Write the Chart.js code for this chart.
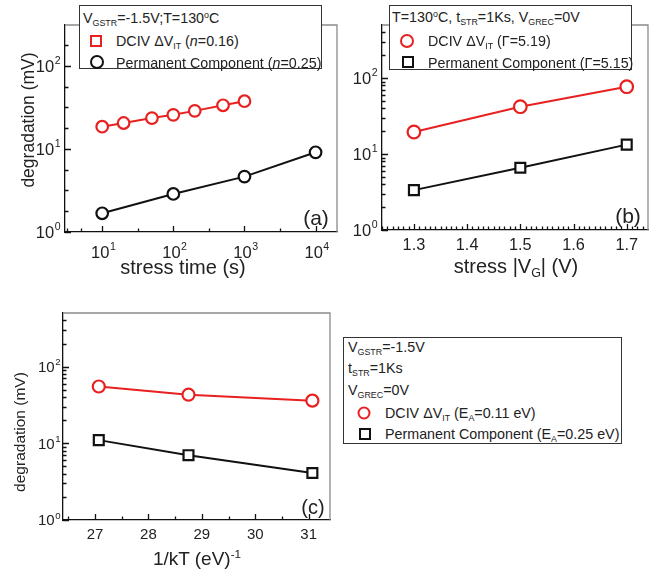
<!DOCTYPE html>
<html>
<head>
<meta charset="utf-8">
<script src="https://cdn.jsdelivr.net/npm/chart.js@4.4.1/dist/chart.umd.min.js"></script>
<style>
body { margin: 0; background: #fff; font-family: "Liberation Sans", Arial, sans-serif; color: #222; }
#wrap { position: relative; width: 665px; height: 570px; overflow: hidden; }
canvas { position: absolute; }
.leg { position: absolute; background: #fff; border: 1px solid #333; box-sizing: border-box; font-size: 14.3px; }
.row { position: absolute; white-space: nowrap; line-height: 1; transform: translateY(-50%); }
.mk { position: absolute; box-sizing: border-box; transform: translate(-50%, -50%); }
.ttl { position: absolute; white-space: nowrap; line-height: 1; transform: translate(-50%, -50%); }
.rot { transform: translate(-50%, -50%) rotate(-90deg); }
sub { font-size: 0.62em; vertical-align: -0.35em; line-height: 0; }
sup { font-size: 0.62em; vertical-align: 0.55em; line-height: 0; }
</style>
</head>
<body>
<div id="wrap">
  <canvas id="ca" width="345" height="290" style="left:0;top:0"></canvas>
  <canvas id="cb" width="330" height="290" style="left:335px;top:0"></canvas>
  <canvas id="cc" width="340" height="275" style="left:0;top:295px"></canvas>

  <!-- axis titles -->
  <div class="ttl" style="left:183px;top:267px;font-size:20px">stress time (s)</div>
  <div class="ttl rot" style="left:29px;top:120px;font-size:17.5px">degradation (mV)</div>
  <div class="ttl" style="left:516px;top:266px;font-size:20px">stress |V<sub>G</sub>| (V)</div>
  <div class="ttl rot" style="left:20px;top:432px;font-size:15.5px">degradation (mV)</div>
  <div class="ttl" style="left:197px;top:558px;font-size:19px">1/kT (eV)<sup>-1</sup></div>

  <!-- panel tags -->
  <div class="ttl" style="left:316px;top:217px;font-size:21px">(a)</div>
  <div class="ttl" style="left:628px;top:215px;font-size:21px">(b)</div>
  <div class="ttl" style="left:313px;top:507px;font-size:20px">(c)</div>

  <!-- legend (a) -->
  <div class="leg" style="left:79px;top:5px;width:243px;height:64px">
    <div class="row" style="left:3px;top:12px">V<sub>GSTR</sub>=-1.5V;T=130<sup>o</sup>C</div>
    <div class="mk" style="left:16px;top:35px;width:12px;height:12px;border:2px solid #e82020"></div>
    <div class="row" style="left:36px;top:35px">DCIV ΔV<sub>IT</sub> (<i>n</i>=0.16)</div>
    <div class="mk" style="left:17px;top:56px;width:14px;height:14px;border:2.5px solid #111;border-radius:50%"></div>
    <div class="row" style="left:36px;top:57px">Permanent Component (<i>n</i>=0.25)</div>
  </div>

  <!-- legend (b) -->
  <div class="leg" style="left:389px;top:5px;width:243px;height:65px">
    <div class="row" style="left:2px;top:11px">T=130<sup>o</sup>C, t<sub>STR</sub>=1Ks, V<sub>GREC</sub>=0V</div>
    <div class="mk" style="left:17px;top:35px;width:14px;height:14px;border:2.5px solid #e82020;border-radius:50%"></div>
    <div class="row" style="left:38px;top:35px">DCIV ΔV<sub>IT</sub> (Γ=5.19)</div>
    <div class="mk" style="left:18px;top:56px;width:12px;height:12px;border:2.5px solid #111"></div>
    <div class="row" style="left:38px;top:57px">Permanent Component (Γ=5.15)</div>
  </div>

  <!-- legend (c) -->
  <div class="leg" style="left:343px;top:337px;width:279px;height:107px">
    <div class="row" style="left:4px;top:9px">V<sub>GSTR</sub>=-1.5V</div>
    <div class="row" style="left:4px;top:30px">t<sub>STR</sub>=1Ks</div>
    <div class="row" style="left:4px;top:52px">V<sub>GREC</sub>=0V</div>
    <div class="mk" style="left:20px;top:75px;width:13px;height:13px;border:2.5px solid #e82020;border-radius:50%"></div>
    <div class="row" style="left:41px;top:75px">DCIV ΔV<sub>IT</sub> (E<sub>A</sub>=0.11 eV)</div>
    <div class="mk" style="left:21px;top:96px;width:12px;height:12px;border:2.5px solid #111"></div>
    <div class="row" style="left:41px;top:96px">Permanent Component (E<sub>A</sub>=0.25 eV)</div>
  </div>
</div>

<script>
// ---- data ----
// (a) degradation vs stress time
const timeA = [10, 20, 50, 100, 200, 500, 1000];
const dcivA = [18.5, 20.5, 23.5, 25.7, 28.7, 33.5, 37.5];
const timePermA = [10, 100, 1000, 10000];
const permA = [1.68, 2.87, 4.64, 9.1];

// (b) degradation vs stress |VG|
const vgB = [1.3, 1.5, 1.7];
const dcivB = [19.5, 42, 77];
const permB = [3.35, 6.6, 13.3];

// (c) degradation vs 1/kT
const invKT = [27.07, 28.75, 31.07];
const dcivC = [55, 43, 36];
const permC = [11, 7, 4.1];

// tick labels
const logMajorA = [10, 100, 1000, 10000];
const logMajorY = [1, 10, 100];
const vgTicks = [1.3, 1.4, 1.5, 1.6, 1.7];
const ktTicks = [27, 28, 29, 30, 31];

const FONT = '"Liberation Sans", Arial, sans-serif';
const RED = '#e82020';
const BLK = '#111111';

function pts(xs, ys) {
    return xs.map((x, i) => ({ x: x, y: ys[i] }));
}

// minor ticks helpers
function logMinor29(min, max) {
    const out = [];
    for (let d = Math.floor(Math.log10(min)); d <= Math.ceil(Math.log10(max)); d++) {
        for (let m = 2; m <= 9; m++) {
            const v = m * Math.pow(10, d);
            if (v > min && v < max) out.push(v);
        }
    }
    return out;
}
function logFrac(min, max, frac) {
    const out = [];
    for (let e = Math.floor(Math.log10(min)); e <= Math.log10(max); e += frac) {
        const v = Math.pow(10, e);
        if (v > min * 1.001 && v < max && Math.abs(e - Math.round(e)) > 1e-6) out.push(v);
    }
    return out;
}
function linMinor(min, max, step) {
    const out = [];
    for (let v = Math.ceil(min / step) * step; v < max; v += step) out.push(+v.toFixed(4));
    return out;
}

// draws "10" with a raised exponent
function powText(ctx, v, x, y, size, align) {
    const base = '10';
    const exp = String(Math.round(Math.log10(v)));
    const es = size * 0.64;
    ctx.font = size + 'px ' + FONT;
    const bw = ctx.measureText(base).width;
    ctx.font = es + 'px ' + FONT;
    const ew = ctx.measureText(exp).width;
    let left = align === 'right' ? x - bw - ew : x - (bw + ew) / 2;
    ctx.textAlign = 'left';
    ctx.textBaseline = 'alphabetic';
    ctx.font = size + 'px ' + FONT;
    ctx.fillText(base, left, y);
    ctx.font = es + 'px ' + FONT;
    ctx.fillText(exp, left + bw + 0.5, y - size * 0.46);
}

// inward ticks, grey top/right frame and log labels, one plugin per panel
function frame(spec) {
    return {
        id: 'frame',
        afterDraw(chart) {
            const ctx = chart.ctx;
            const a = chart.chartArea;
            const sx = chart.scales.x;
            const sy = chart.scales.y;
            ctx.save();
            ctx.strokeStyle = '#8a8a8a';
            ctx.lineWidth = 1.3;
            ctx.beginPath();
            ctx.moveTo(a.left, a.top);
            ctx.lineTo(a.right, a.top);
            ctx.lineTo(a.right, a.bottom);
            ctx.stroke();

            ctx.strokeStyle = '#111';
            ctx.lineWidth = 1.3;
            ctx.beginPath();
            spec.xMajor.concat(spec.xMinor).forEach((v, i) => {
                const len = i < spec.xMajor.length ? 6 : 3.5;
                const px = Math.round(sx.getPixelForValue(v)) + 0.5;
                ctx.moveTo(px, a.bottom);
                ctx.lineTo(px, a.bottom - len);
            });
            spec.yMajor.concat(spec.yMinor).forEach((v, i) => {
                const len = i < spec.yMajor.length ? 6 : 3.5;
                const py = Math.round(sy.getPixelForValue(v)) + 0.5;
                ctx.moveTo(a.left, py);
                ctx.lineTo(a.left + len, py);
            });
            ctx.stroke();

            ctx.fillStyle = '#222';
            if (spec.xLog) {
                spec.xMajor.forEach(v => powText(ctx, v, sx.getPixelForValue(v) + 1, a.bottom + spec.xLog.dy, spec.xLog.size, 'center'));
            }
            if (spec.yLog) {
                spec.yMajor.forEach(v => powText(ctx, v, a.left - spec.yLog.gap, sy.getPixelForValue(v) + spec.yLog.size * 0.36, spec.yLog.size, 'right'));
            }
            ctx.restore();
        }
    };
}

function axis(type, min, max, fontSize, major, side, pad, showTicks) {
    return {
        type: type,
        min: min,
        max: max,
        grid: { display: false, drawTicks: false, tickLength: 0 },
        border: { display: true, color: '#111', width: 1.3 },
        ticks: {
            display: showTicks,
            font: { family: FONT, size: fontSize },
            color: '#222',
            padding: pad,
            autoSkip: false,
            maxRotation: 0,
            callback: v => (type === 'linear' ? (Number.isInteger(v) ? String(v) : v.toFixed(1)) : '')
        },
        afterBuildTicks: s => { s.ticks = major.map(v => ({ value: v })); },
        afterFit: s => { if (side.w) s.width = side.w; if (side.h) s.height = side.h; }
    };
}

function series(data, color, style, radius) {
    return {
        data: data,
        borderColor: color,
        borderWidth: 2,
        pointStyle: style,
        pointRadius: radius,
        pointBorderWidth: 2.2,
        pointBorderColor: color,
        pointBackgroundColor: '#fff',
        tension: 0
    };
}

function makeChart(id, datasets, xAxis, yAxis, padding, spec) {
    return new Chart(document.getElementById(id), {
        type: 'line',
        data: { datasets: datasets },
        options: {
            responsive: false,
            devicePixelRatio: 1,
            animation: false,
            layout: { padding: padding },
            scales: { x: xAxis, y: yAxis },
            plugins: { legend: { display: false }, tooltip: { enabled: false } }
        },
        plugins: [frame(spec)]
    });
}

// (a)
makeChart('ca',
    [series(pts(timeA, dcivA), RED, 'circle', 5.8), series(pts(timePermA, permA), BLK, 'circle', 5.8)],
    axis('logarithmic', 3, 20000, 16.5, logMajorA, { h: 58 }, 0, false),
    axis('logarithmic', 1, 310, 16.5, logMajorY, { w: 65 }, 0, false),
    { top: 25, right: 7, left: 0, bottom: 0 },
    { xMajor: logMajorA, xMinor: logFrac(3, 20000, 0.5).concat([5]), yMajor: logMajorY, yMinor: logFrac(1, 310, 0.25),
      xLog: { size: 16.5, dy: 26 }, yLog: { size: 16.5, gap: 5 } }
);

// (b)
makeChart('cb',
    [series(pts(vgB, dcivB), RED, 'circle', 6.3), series(pts(vgB, permB), BLK, 'rect', 7)],
    axis('linear', 1.24, 1.74, 16.3, vgTicks, { h: 60 }, 6, true),
    axis('logarithmic', 1, 500, 16.5, logMajorY, { w: 47 }, 0, false),
    { top: 25, right: 17, left: 0, bottom: 0 },
    { xMajor: vgTicks, xMinor: linMinor(1.24, 1.74, 0.01), yMajor: logMajorY, yMinor: logMinor29(1, 500),
      yLog: { size: 16.5, gap: 5 } }
);

// (c)
makeChart('cc',
    [series(pts(invKT, dcivC), RED, 'circle', 6), series(pts(invKT, permC), BLK, 'rect', 7)],
    axis('linear', 26.4, 31.4, 15, ktTicks, { h: 50 }, 6, true),
    axis('logarithmic', 1, 500, 15, logMajorY, { w: 63 }, 0, false),
    { top: 18, right: 10, left: 0, bottom: 0 },
    { xMajor: ktTicks, xMinor: linMinor(26.4, 31.4, 0.5).filter(v => v % 1 !== 0), yMajor: logMajorY, yMinor: logMinor29(1, 500),
      yLog: { size: 15, gap: 3 } }
);
</script>
</body>
</html>
